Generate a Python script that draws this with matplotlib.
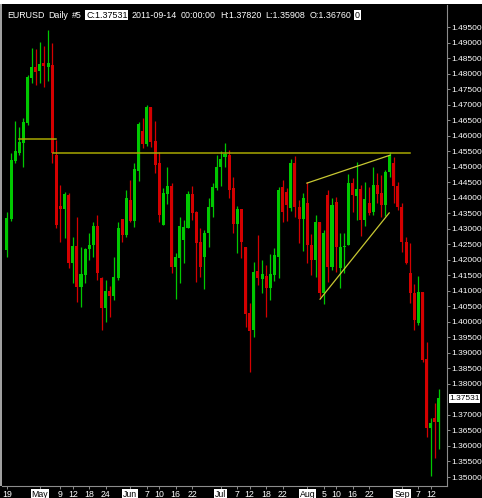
import matplotlib

matplotlib.use("Agg")

import matplotlib.pyplot as plt
import numpy as np
from matplotlib.patches import Rectangle

# EURUSD daily candles, 2011-04-19 .. 2011-09-14 (one entry per bar)
opens = [1.4231, 1.4331, 1.4518, 1.4544, 1.4576, 1.4641, 1.4786, 1.4821, 1.4808, 1.4834,
         1.4821, 1.4828, 1.4537, 1.4373, 1.4363, 1.4409, 1.4189, 1.4244, 1.4112, 1.4151,
         1.4235, 1.4247, 1.4309, 1.4141, 1.4044, 1.4099, 1.4083, 1.4141, 1.4331, 1.4280,
         1.4392, 1.4325, 1.4486, 1.4615, 1.4573, 1.4692, 1.4583, 1.4512, 1.4312, 1.4412,
         1.4438, 1.4177, 1.4206, 1.4264, 1.4302, 1.4412, 1.4354, 1.4257, 1.4209, 1.4286,
         1.4370, 1.4431, 1.4499, 1.4531, 1.4537, 1.4431, 1.4315, 1.4363, 1.4241, 1.4028,
         1.3974, 1.4164, 1.4138, 1.4148, 1.4109, 1.4151, 1.4209, 1.4434, 1.4418, 1.4367,
         1.4512, 1.4370, 1.4331, 1.4383, 1.4247, 1.4199, 1.4322, 1.4093, 1.4409, 1.4177,
         1.4386, 1.4173, 1.4241, 1.4247, 1.4447, 1.4405, 1.4428, 1.4328, 1.4383, 1.4354,
         1.4441, 1.4415, 1.4376, 1.4483, 1.4512, 1.4438, 1.4370, 1.4257, 1.4157, 1.4093,
         1.3996, 1.4096, 1.3880, 1.3658, 1.3690, 1.36760]
highs = [1.4354, 1.4544, 1.4647, 1.4628, 1.4657, 1.4795, 1.4882, 1.4879, 1.4902, 1.4889,
         1.4940, 1.4898, 1.4586, 1.4441, 1.4418, 1.4415, 1.4273, 1.4338, 1.4241, 1.4238,
         1.4286, 1.4322, 1.4344, 1.4144, 1.4135, 1.4115, 1.4209, 1.4322, 1.4331, 1.4425,
         1.4457, 1.4512, 1.4644, 1.4657, 1.4699, 1.4692, 1.4647, 1.4547, 1.4431, 1.4499,
         1.4447, 1.4222, 1.4338, 1.4328, 1.4421, 1.4438, 1.4357, 1.4302, 1.4296, 1.4399,
         1.4447, 1.4537, 1.4550, 1.4576, 1.4554, 1.4467, 1.4373, 1.4363, 1.4241, 1.4061,
         1.4193, 1.4280, 1.4199, 1.4183, 1.4218, 1.4238, 1.4434, 1.4457, 1.4431, 1.4525,
         1.4534, 1.4392, 1.4415, 1.4450, 1.4283, 1.4344, 1.4322, 1.4296, 1.4425, 1.4399,
         1.4402, 1.4286, 1.4286, 1.4476, 1.4463, 1.4515, 1.4441, 1.4450, 1.4434, 1.4499,
         1.4479, 1.4473, 1.4489, 1.4547, 1.4531, 1.4450, 1.4383, 1.4273, 1.4254, 1.4122,
         1.4148, 1.4096, 1.3935, 1.3690, 1.3738, 1.37820]
lows = [1.4209, 1.4325, 1.4512, 1.4537, 1.4499, 1.4634, 1.4770, 1.4763, 1.4770, 1.4757,
        1.4776, 1.4512, 1.4302, 1.4257, 1.4270, 1.4173, 1.4125, 1.4064, 1.4048, 1.4125,
        1.4199, 1.4209, 1.4135, 1.3974, 1.3999, 1.4015, 1.4070, 1.4135, 1.4257, 1.4273,
        1.4322, 1.4306, 1.4454, 1.4560, 1.4566, 1.4563, 1.4479, 1.4322, 1.4312, 1.4380,
        1.4157, 1.4073, 1.4125, 1.4189, 1.4302, 1.4328, 1.4128, 1.4144, 1.4106, 1.4241,
        1.4338, 1.4425, 1.4438, 1.4499, 1.4399, 1.4286, 1.4222, 1.4206, 1.3983, 1.3838,
        1.3951, 1.4119, 1.4093, 1.4015, 1.4070, 1.4131, 1.4141, 1.4322, 1.4325, 1.4357,
        1.4338, 1.4254, 1.4228, 1.4189, 1.4151, 1.4144, 1.4080, 1.4057, 1.4128, 1.4167,
        1.4160, 1.4109, 1.4157, 1.4247, 1.4354, 1.4328, 1.4276, 1.4309, 1.4344, 1.4344,
        1.4383, 1.4338, 1.4341, 1.4467, 1.4383, 1.4360, 1.4225, 1.4186, 1.4061, 1.3974,
        1.3990, 1.3870, 1.3629, 1.3503, 1.3561, 1.35908]
closes = [1.4334, 1.4521, 1.4550, 1.4579, 1.4644, 1.4789, 1.4821, 1.4805, 1.4831, 1.4824,
          1.4834, 1.4544, 1.4312, 1.4363, 1.4412, 1.4189, 1.4244, 1.4112, 1.4154, 1.4235,
          1.4247, 1.4309, 1.4157, 1.4044, 1.4099, 1.4083, 1.4144, 1.4302, 1.4280, 1.4399,
          1.4325, 1.4492, 1.4637, 1.4573, 1.4692, 1.4579, 1.4505, 1.4344, 1.4415, 1.4438,
          1.4177, 1.4209, 1.4309, 1.4306, 1.4412, 1.4351, 1.4254, 1.4177, 1.4286, 1.4370,
          1.4434, 1.4499, 1.4525, 1.4541, 1.4425, 1.4315, 1.4363, 1.4257, 1.4025, 1.3970,
          1.4160, 1.4141, 1.4154, 1.4109, 1.4154, 1.4215, 1.4425, 1.4354, 1.4376, 1.4512,
          1.4370, 1.4331, 1.4399, 1.4247, 1.4199, 1.4322, 1.4093, 1.4286, 1.4177, 1.4376,
          1.4241, 1.4241, 1.4244, 1.4447, 1.4409, 1.4428, 1.4328, 1.4396, 1.4351, 1.4441,
          1.4412, 1.4376, 1.4483, 1.4537, 1.4438, 1.4370, 1.4257, 1.4189, 1.4093, 1.4006,
          1.4096, 1.3877, 1.3658, 1.3674, 1.3677, 1.37531]

# bottom axis labels: bar index -> text
date_tick_bars = [0, 8, 13, 16, 20, 24, 30, 34, 37, 41, 45, 52, 56, 59, 63, 67, 73, 77, 80, 84, 88, 96, 100, 103]
date_tick_labels = ["19", "May", "9", "12", "18", "24", "Jun", "7", "10", "16", "22", "Jul", "7", "12",
                    "18", "22", "Aug", "5", "10", "16", "22", "Sep", "7", "12"]
month_names = ["May", "Jun", "Jul", "Aug", "Sep"]

# price scale labels (1.37500 is hidden behind the current price box)
price_ticks = [round(1.35 + 0.005 * k, 3) for k in range(30)]
price_ticks = [p for p in price_ticks if abs(p - 1.375) > 1e-9]
last_price = 1.37531

# hand drawn objects on the chart: (bar, price) end points
level_short_bars = [3, 12]
level_short_price = 1.4589
level_long_bars = [11.2, 98]
level_long_price = 1.4545
wedge_top_bars = [72.9, 93.1]
wedge_top_prices = [1.4447, 1.4537]
wedge_bottom_bars = [76.1, 92.9]
wedge_bottom_prices = [1.4073, 1.4351]

# header line: text, drawn in a white box?
header_parts = [("EURUSD", False), ("Daily", False), ("#5", False), ("C:1.37531", True),
                ("2011-09-14", False), ("00:00:00", False), ("H:1.37820", False),
                ("L:1.35908", False), ("O:1.36760", False), ("0", True)]

W, H = 482, 498
BULL = "#00c800"
BEAR = "#d40000"
AXIS_GREY = "#8c8c8c"
FONT = "Liberation Sans"
SIZE = 6.0

fig = plt.figure(figsize=(W / 100, H / 100), dpi=100)
fig.patch.set_facecolor("black")
ax = fig.add_axes([2 / W, 12 / H, 445 / W, 481 / H])
ax.set_facecolor("black")

o = np.array(opens)
hi = np.array(highs)
lo = np.array(lows)
c = np.array(closes)
x = np.arange(len(o))
colors = np.where(c >= o, BULL, BEAR)

ax.vlines(x, lo, hi, colors=colors, linewidth=0.9, zorder=2)
body = np.maximum(np.abs(c - o), 0.0003)
ax.bar(x, body, bottom=np.minimum(o, c), width=0.74, color=colors, linewidth=0, zorder=3)

ax.plot(level_short_bars, [level_short_price] * 2, color="#a8a800", linewidth=1.1, zorder=4)
ax.plot(level_long_bars, [level_long_price] * 2, color="#a8a800", linewidth=1.1, zorder=4)
ax.plot(wedge_top_bars, wedge_top_prices, color="#c8c832", linewidth=0.9, zorder=4)
ax.plot(wedge_bottom_bars, wedge_bottom_prices, color="#c8c832", linewidth=0.9, zorder=4)

ax.set_xlim(-1.2, 106.95)
ax.set_ylim(1.3471, 1.5021)

for side in ("left", "top"):
    ax.spines[side].set_visible(False)
for side in ("right", "bottom"):
    ax.spines[side].set_color(AXIS_GREY)
    ax.spines[side].set_linewidth(0.8)

ax.yaxis.tick_right()
ax.set_yticks(price_ticks)
ax.set_yticklabels([f"{p:.5f}" for p in price_ticks])
ax.tick_params(axis="y", colors=AXIS_GREY, labelcolor="white", length=2.5, width=0.7,
               pad=0.5, labelsize=SIZE)

ax.set_xticks(date_tick_bars)
ax.set_xticklabels(date_tick_labels)
ax.tick_params(axis="x", colors=AXIS_GREY, labelcolor="white", length=2.5, width=0.7,
               pad=0.5, labelsize=6.3)
for lab in ax.get_yticklabels() + ax.get_xticklabels():
    lab.set_fontfamily(FONT)
for lab in ax.get_xticklabels():
    if lab.get_text() in month_names:
        lab.set_color("black")
        lab.set_bbox(dict(facecolor="white", edgecolor="none", pad=0.6))

# current price box on the price scale
ax.annotate(f"{last_price:.5f}", xy=(1.0, last_price), xycoords=("axes fraction", "data"),
            xytext=(1.6, 0), textcoords="offset points", va="center", ha="left",
            fontsize=SIZE, family=FONT, color="black",
            bbox=dict(facecolor="white", edgecolor="none", pad=0.4), annotation_clip=False)

# header line over the chart, laid out word by word from x=7 px
renderer = fig.canvas.get_renderer()
cursor = 7.0
gap = 4.0
for txt, boxed in header_parts:
    t = fig.text(cursor / W, 1 - 15 / H, txt, fontsize=6.4, family=FONT, va="center", ha="left",
                 color="black" if boxed else "white",
                 bbox=dict(facecolor="white", edgecolor="none", pad=0.5) if boxed else None)
    cursor += t.get_window_extent(renderer).width + gap

# window frame: white strip on top, grey border at left
fig.patches.append(Rectangle((0, 1 - 4 / H), 1, 4 / H, transform=fig.transFigure,
                             facecolor="white", edgecolor="none", zorder=10))
fig.patches.append(Rectangle((0, 12 / H), 2 / W, 1 - 16 / H, transform=fig.transFigure,
                             facecolor="#a0a0a0", edgecolor="none", zorder=10))

fig.savefig("out.png", dpi=100, facecolor=fig.get_facecolor())
plt.close(fig)
